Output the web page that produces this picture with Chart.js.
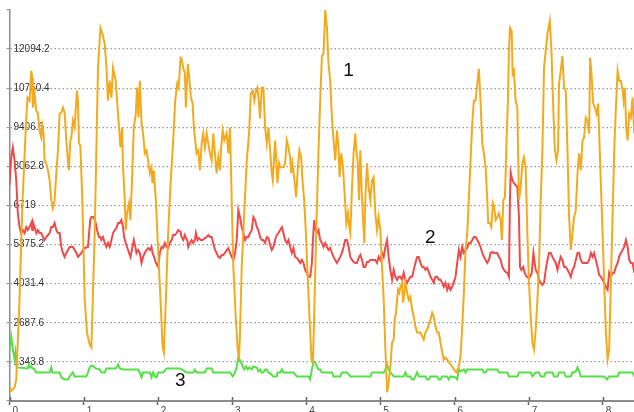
<!DOCTYPE html>
<html><head><meta charset="utf-8">
<script src="https://cdn.jsdelivr.net/npm/chart.js@4/dist/chart.umd.min.js"></script>
<style>html,body{margin:0;padding:0;background:#fff;overflow:hidden;}canvas{display:block;}</style>
</head><body>
<canvas id="c" width="634" height="412"></canvas>
<script>
// ---- data ----
const seriesNames = ['1', '2', '3'];
const xTickValues = [0, 1, 2, 3, 4, 5, 6, 7, 8];
const xTickLabels = ['0', '1', '2', '3', '4', '5', '6', '7', '8'];
const yTickValues = [0, 1343.8, 2687.6, 4031.4, 5375.2, 6719, 8062.8, 9406.6, 10750.4, 12094.2, 13438];
const yTickLabels = ['', '1343.8', '2687.6', '4031.4', '5375.2', '6719', '8062.8', '9406.6', '10750.4', '12094.2', ''];

const series1 = [[0,469],[0.023,342],[0.068,469],[0.091,743],[0.135,3480],[0.176,6902],[0.226,9742],[0.243,10427],[0.270,10324],[0.280,10666],[0.293,11351],[0.307,11111],[0.315,10085],[0.338,10564],[0.361,9982],[0.382,9879],[0.405,9298],[0.428,9058],[0.442,9469],[0.459,9195],[0.473,8271],[0.496,8168],[0.518,7929],[0.541,7587],[0.564,6902],[0.585,6628],[0.608,6902],[0.631,7826],[0.653,8613],[0.676,9879],[0.699,9914],[0.720,10085],[0.743,9914],[0.766,8955],[0.788,8271],[0.801,7929],[0.820,8955],[0.834,9058],[0.855,9640],[0.878,9400],[0.892,9982],[0.909,10666],[0.923,10324],[0.936,8853],[0.955,8784],[0.982,6902],[1.014,3480],[1.045,2351],[1.081,1940],[1.104,1838],[1.149,5773],[1.193,11453],[1.226,12822],[1.253,12617],[1.284,12275],[1.307,11453],[1.328,10324],[1.351,11009],[1.374,10427],[1.396,11453],[1.432,11009],[1.450,10324],[1.477,9400],[1.496,8716],[1.518,9400],[1.531,8031],[1.554,6902],[1.568,5876],[1.585,6457],[1.612,6800],[1.631,6218],[1.658,8031],[1.676,9400],[1.703,9879],[1.720,10769],[1.739,9742],[1.757,11009],[1.780,9537],[1.801,9195],[1.824,8511],[1.847,8613],[1.869,8271],[1.892,7826],[1.915,8031],[1.928,7484],[1.946,7929],[1.973,6902],[2.004,5191],[2.036,3480],[2.064,1872],[2.081,1667],[2.108,3480],[2.139,5773],[2.172,7484],[2.207,8955],[2.234,10324],[2.261,10906],[2.280,10769],[2.307,11796],[2.320,11761],[2.342,11453],[2.365,11248],[2.378,10085],[2.405,11590],[2.423,11111],[2.446,10427],[2.469,10222],[2.486,9400],[2.504,8955],[2.523,8511],[2.545,8613],[2.568,7929],[2.591,8853],[2.612,9195],[2.635,8716],[2.658,9195],[2.680,8853],[2.703,8511],[2.726,8271],[2.747,9195],[2.770,8511],[2.793,7826],[2.815,8374],[2.838,7929],[2.851,8613],[2.874,9298],[2.896,8955],[2.928,9195],[2.950,8511],[2.973,9400],[2.996,6902],[3.018,4609],[3.050,2898],[3.077,1769],[3.095,1427],[3.108,2351],[3.131,4609],[3.162,6320],[3.199,8271],[3.230,9195],[3.253,10564],[3.280,10666],[3.301,10324],[3.324,10666],[3.342,10769],[3.361,10324],[3.378,9708],[3.401,10769],[3.423,10769],[3.446,9400],[3.469,8853],[3.491,9400],[3.514,8613],[3.536,7826],[3.550,7587],[3.581,8955],[3.595,8374],[3.612,7484],[3.635,8168],[3.649,8031],[3.693,8031],[3.716,8168],[3.739,8955],[3.761,8716],[3.784,8374],[3.797,7826],[3.815,8168],[3.838,7689],[3.865,7005],[3.888,8031],[3.909,8613],[3.932,8374],[3.950,7587],[3.973,6902],[3.996,5773],[4.018,4404],[4.045,2898],[4.072,1427],[4.091,1324],[4.108,2898],[4.135,5773],[4.166,8613],[4.189,10324],[4.212,11864],[4.234,11933],[4.257,13438],[4.280,12822],[4.301,11590],[4.324,11009],[4.347,9742],[4.369,8955],[4.392,8271],[4.415,9298],[4.436,8716],[4.450,7689],[4.473,8511],[4.496,8031],[4.518,7142],[4.541,6115],[4.563,6457],[4.581,5978],[4.595,5773],[4.618,7347],[4.639,8511],[4.662,9195],[4.676,8613],[4.693,8271],[4.712,6902],[4.730,8613],[4.753,6902],[4.784,5431],[4.797,6902],[4.820,8168],[4.842,7347],[4.865,6902],[4.888,7587],[4.909,7689],[4.932,6457],[4.955,5876],[4.977,6320],[5.000,5876],[5.023,4609],[5.045,3480],[5.068,1769],[5.091,298],[5.112,640],[5.135,1187],[5.158,2009],[5.180,2111],[5.193,2796],[5.212,3035],[5.226,3480],[5.239,3822],[5.257,3720],[5.270,3925],[5.293,4062],[5.307,3378],[5.324,3720],[5.338,4062],[5.361,3720],[5.382,3480],[5.405,3583],[5.428,3138],[5.450,2898],[5.473,2556],[5.496,2351],[5.541,2351],[5.585,2111],[5.608,2351],[5.631,2454],[5.676,2796],[5.699,3035],[5.720,2898],[5.743,2556],[5.766,2351],[5.788,2351],[5.811,2009],[5.834,1667],[5.855,1427],[5.878,1495],[5.901,1427],[5.923,1324],[5.946,1256],[5.969,1187],[5.991,1085],[6.027,982],[6.059,1187],[6.081,1530],[6.104,2556],[6.126,3720],[6.149,5191],[6.172,5773],[6.193,6902],[6.216,8271],[6.239,9537],[6.261,10324],[6.284,10324],[6.307,10906],[6.328,11419],[6.351,10324],[6.374,8853],[6.396,8511],[6.419,8031],[6.442,6902],[6.455,6115],[6.477,6115],[6.496,5978],[6.518,6800],[6.536,6662],[6.554,6218],[6.577,6320],[6.599,6457],[6.622,6218],[6.639,5533],[6.658,6902],[6.680,7005],[6.703,9058],[6.720,10324],[6.734,12035],[6.747,12822],[6.770,12720],[6.784,11248],[6.801,11351],[6.824,10324],[6.847,10085],[6.869,6902],[6.892,7347],[6.915,8168],[6.936,8374],[6.959,8031],[6.982,5773],[7.004,4062],[7.027,2898],[7.050,2009],[7.072,1769],[7.095,2454],[7.118,3480],[7.139,4609],[7.162,6902],[7.185,8613],[7.207,11453],[7.230,12035],[7.253,12617],[7.284,13062],[7.307,12035],[7.328,10324],[7.351,8716],[7.374,8271],[7.396,8613],[7.409,10906],[7.432,11351],[7.455,11864],[7.477,10769],[7.500,10666],[7.523,8613],[7.545,6320],[7.568,5191],[7.591,5773],[7.612,6320],[7.635,6560],[7.658,7826],[7.680,8511],[7.703,7929],[7.726,8955],[7.747,9058],[7.770,9742],[7.793,9640],[7.815,9195],[7.828,11796],[7.847,11248],[7.869,10222],[7.892,10085],[7.915,9879],[7.936,10222],[7.950,9195],[7.973,7484],[7.996,5773],[8.018,4062],[8.041,2351],[8.064,1427],[8.085,1769],[8.108,4062],[8.131,6320],[8.153,8613],[8.176,10085],[8.199,11351],[8.220,11009],[8.243,11009],[8.266,10666],[8.280,10324],[8.297,10769],[8.315,9400],[8.334,8955],[8.355,9879],[8.378,9742],[8.401,10427],[8.423,9195],[8.446,8955]];

const series2 = [[0,7416],[0.023,8374],[0.045,8716],[0.068,8271],[0.091,7587],[0.112,6457],[0.135,5978],[0.158,5773],[0.180,5876],[0.203,5773],[0.226,5978],[0.247,5876],[0.270,5978],[0.293,6115],[0.307,5876],[0.315,6149],[0.338,5978],[0.361,5773],[0.382,5876],[0.405,5773],[0.428,5773],[0.450,5636],[0.473,5533],[0.496,5636],[0.518,5704],[0.541,5773],[0.564,5978],[0.585,5978],[0.608,6115],[0.631,5876],[0.653,5773],[0.676,5773],[0.699,5294],[0.720,5088],[0.743,4952],[0.766,5088],[0.788,5191],[0.811,5294],[0.855,5294],[0.878,5191],[0.901,5088],[0.923,4952],[0.946,5020],[0.969,5088],[0.991,5191],[1.014,5260],[1.058,5294],[1.068,5601],[1.088,6218],[1.104,6320],[1.135,6320],[1.162,6115],[1.180,5876],[1.207,5636],[1.226,5636],[1.239,5533],[1.261,5636],[1.284,5431],[1.307,5294],[1.328,5431],[1.351,5294],[1.374,5533],[1.396,5773],[1.419,5876],[1.442,5944],[1.464,6115],[1.486,6115],[1.509,6218],[1.531,5978],[1.545,5636],[1.568,5431],[1.585,5294],[1.612,5088],[1.631,4952],[1.658,5294],[1.676,5533],[1.699,5260],[1.712,5088],[1.734,5191],[1.757,5088],[1.780,4746],[1.801,4952],[1.824,5088],[1.847,5191],[1.869,5260],[1.892,5191],[1.915,5294],[1.928,5088],[1.950,4952],[1.973,4746],[2.004,4609],[2.027,5088],[2.050,5294],[2.072,5260],[2.095,5431],[2.118,5294],[2.139,5260],[2.162,5431],[2.185,5533],[2.207,5704],[2.230,5704],[2.253,5773],[2.274,5876],[2.307,5807],[2.320,5636],[2.342,5533],[2.365,5704],[2.378,5601],[2.396,5533],[2.410,5294],[2.432,5431],[2.455,5533],[2.477,5431],[2.500,5533],[2.514,5773],[2.536,5533],[2.558,5601],[2.577,5533],[2.604,5533],[2.635,5601],[2.658,5636],[2.680,5704],[2.703,5636],[2.726,5636],[2.747,5431],[2.770,5191],[2.793,5088],[2.815,4952],[2.838,4917],[2.861,5020],[2.882,5020],[2.905,5088],[2.928,5191],[2.950,5260],[2.973,5088],[2.996,4952],[3.018,4849],[3.041,5088],[3.064,5533],[3.085,6560],[3.108,6320],[3.131,5978],[3.153,5773],[3.176,5533],[3.199,5636],[3.220,5636],[3.243,5773],[3.266,5876],[3.288,6320],[3.311,6218],[3.334,5978],[3.355,5876],[3.378,5636],[3.401,5533],[3.423,5533],[3.446,5431],[3.469,5636],[3.491,5601],[3.514,5362],[3.536,5191],[3.558,5294],[3.581,5533],[3.604,5704],[3.626,5773],[3.649,5876],[3.672,5978],[3.693,5773],[3.716,5533],[3.739,5431],[3.761,5533],[3.784,5294],[3.807,5088],[3.828,5260],[3.851,4952],[3.874,4917],[3.896,4849],[3.919,4746],[3.942,4849],[3.963,4746],[3.986,4507],[4.009,4404],[4.031,4267],[4.054,4267],[4.077,4746],[4.091,5533],[4.108,6218],[4.126,5876],[4.145,5773],[4.166,5876],[4.189,5533],[4.212,5431],[4.234,5294],[4.257,5431],[4.280,5294],[4.301,5191],[4.324,5260],[4.347,5088],[4.369,4952],[4.392,4849],[4.415,4746],[4.436,4849],[4.459,4952],[4.482,5088],[4.504,5294],[4.527,5533],[4.550,5533],[4.572,5294],[4.595,4952],[4.618,4849],[4.639,4781],[4.662,4746],[4.685,4746],[4.707,4917],[4.730,5020],[4.753,4849],[4.774,4609],[4.797,4609],[4.820,4781],[4.842,4781],[4.865,4849],[4.909,4849],[4.932,4849],[4.955,4746],[4.977,4952],[5.000,4849],[5.023,5088],[5.045,4952],[5.068,5294],[5.091,5533],[5.112,4952],[5.135,4507],[5.158,4165],[5.180,4507],[5.203,4267],[5.226,4165],[5.247,4267],[5.270,4267],[5.293,4165],[5.315,4404],[5.338,4165],[5.361,4062],[5.382,4165],[5.405,4267],[5.428,4267],[5.450,4507],[5.473,4746],[5.496,4952],[5.518,4952],[5.541,4746],[5.564,4609],[5.585,4609],[5.608,4507],[5.631,4575],[5.653,4438],[5.676,4267],[5.699,4165],[5.720,4062],[5.743,4267],[5.766,4267],[5.788,4165],[5.811,4165],[5.834,4062],[5.855,3925],[5.878,4062],[5.901,3822],[5.923,3993],[5.946,3822],[5.969,3925],[5.991,4096],[6.014,4267],[6.036,4746],[6.059,5191],[6.081,4952],[6.104,5294],[6.126,5088],[6.149,5191],[6.172,5260],[6.193,5431],[6.216,5431],[6.239,5533],[6.261,5636],[6.284,5636],[6.307,5533],[6.328,5431],[6.351,5294],[6.374,5088],[6.396,4952],[6.419,4849],[6.442,4746],[6.464,4849],[6.486,5088],[6.509,5123],[6.531,5088],[6.554,5088],[6.577,5088],[6.599,4952],[6.622,4849],[6.645,4609],[6.666,4507],[6.689,4438],[6.712,4404],[6.734,4267],[6.747,6902],[6.757,7860],[6.780,7587],[6.801,7484],[6.824,7416],[6.847,7347],[6.869,6320],[6.883,4609],[6.901,4507],[6.928,4609],[6.946,4404],[6.973,4267],[6.996,4233],[7.018,4267],[7.041,4404],[7.064,5088],[7.081,4746],[7.095,4507],[7.118,4404],[7.139,4165],[7.162,4062],[7.185,3993],[7.207,4062],[7.230,4507],[7.253,4849],[7.274,5088],[7.297,5088],[7.320,4952],[7.342,4849],[7.365,4746],[7.388,4507],[7.409,4746],[7.432,4952],[7.455,4849],[7.477,4609],[7.500,4609],[7.523,4507],[7.545,4404],[7.568,4267],[7.591,4507],[7.612,4609],[7.635,4849],[7.658,5088],[7.680,5088],[7.703,4849],[7.726,4746],[7.793,4746],[7.815,4849],[7.838,5088],[7.861,4952],[7.882,5088],[7.905,4849],[7.928,4609],[7.950,4336],[7.973,4267],[7.996,4165],[8.018,4062],[8.041,3925],[8.064,3822],[8.085,4404],[8.108,4267],[8.131,4404],[8.153,4404],[8.176,4609],[8.199,4746],[8.220,4952],[8.243,5088],[8.266,5191],[8.288,5294],[8.311,5533],[8.334,5294],[8.355,4849],[8.378,4746],[8.401,4746],[8.423,4404],[8.446,4336]];

const series3 = [[0,1769],[0.023,2214],[0.045,1769],[0.068,1427],[0.081,1667],[0.099,1153],[0.247,1119],[0.261,1256],[0.280,1153],[0.293,1187],[0.315,1119],[0.338,1085],[0.361,982],[0.541,982],[0.564,1153],[0.577,982],[0.676,982],[0.699,811],[0.743,743],[0.788,743],[0.811,845],[0.855,982],[0.878,845],[1.036,845],[1.058,982],[1.081,1153],[1.104,1222],[1.135,1187],[1.162,1119],[1.216,1085],[1.239,982],[1.284,982],[1.307,1119],[1.432,1119],[1.464,1256],[1.486,1119],[1.531,1085],[1.734,1085],[1.757,982],[1.780,811],[1.801,982],[1.892,982],[1.915,811],[1.937,982],[1.959,845],[1.982,811],[2.004,982],[2.072,982],[2.118,1119],[2.297,1119],[2.388,982],[2.477,982],[2.500,1085],[2.523,982],[2.635,982],[2.658,1119],[2.726,1119],[2.747,982],[2.973,982],[3.009,845],[3.041,982],[3.064,1187],[3.085,1495],[3.118,1359],[3.145,1187],[3.166,1085],[3.189,1187],[3.212,1085],[3.234,1153],[3.266,1085],[3.288,1187],[3.334,1153],[3.355,1016],[3.378,1085],[3.401,982],[3.423,982],[3.446,1085],[3.469,1085],[3.491,982],[3.514,948],[3.558,845],[3.604,845],[3.613,982],[3.649,982],[3.672,1085],[3.693,982],[3.828,982],[3.874,845],[4.031,845],[4.054,743],[4.077,1085],[4.099,1359],[4.122,1324],[4.145,1187],[4.166,1085],[4.189,1085],[4.212,982],[4.347,982],[4.369,845],[4.459,845],[4.482,982],[4.550,982],[4.595,845],[4.865,845],[4.888,982],[5.045,982],[5.068,1085],[5.091,1256],[5.112,1085],[5.135,982],[5.158,914],[5.180,845],[5.315,845],[5.338,982],[5.361,845],[5.405,845],[5.428,743],[5.450,743],[5.473,845],[5.496,982],[5.518,845],[5.608,845],[5.631,743],[5.653,743],[5.676,845],[5.766,845],[5.788,743],[5.811,743],[5.834,845],[5.901,845],[5.923,743],[5.946,845],[6.014,811],[6.036,743],[6.059,1085],[6.081,1016],[6.126,1085],[6.149,982],[6.172,1085],[6.374,1085],[6.396,982],[6.419,982],[6.442,1085],[6.577,1085],[6.599,982],[6.712,982],[6.734,845],[6.847,845],[6.869,982],[7.027,982],[7.050,845],[7.072,914],[7.095,982],[7.139,982],[7.162,845],[7.207,845],[7.230,982],[7.320,982],[7.342,845],[7.388,845],[7.409,982],[7.477,982],[7.500,845],[7.568,845],[7.591,982],[7.635,1016],[7.658,1153],[7.680,1016],[7.703,845],[8.018,845],[8.054,743],[8.085,845],[8.199,845],[8.220,982],[8.401,982],[8.423,845],[8.446,845]];

// ---- chart ----
const labelAnchorX = [4.57, 5.675, 2.304];
const labelAnchorY = [11340, 5605, 683];
const toPts = arr => arr.map(p => ({x: p[0], y: p[1]}));
const FONT = '"Liberation Sans", Arial, sans-serif';

const extras = {
  id: 'extras',
  afterDatasetsDraw(chart) {
    const {ctx} = chart;
    const xs = chart.scales.x, ys = chart.scales.y;
    ctx.save();
    ctx.strokeStyle = '#666';
    ctx.lineWidth = 1.5;
    xs.ticks.forEach((t, i) => {
      const px = Math.round(xs.getPixelForTick(i)) + 0.5;
      ctx.beginPath(); ctx.moveTo(px, ys.bottom - 4); ctx.lineTo(px, ys.bottom); ctx.stroke();
    });
    ctx.font = '19px ' + FONT;
    ctx.fillStyle = '#111';
    ctx.textAlign = 'center';
    ctx.textBaseline = 'middle';
    seriesNames.forEach((n, i) => {
      ctx.fillText(n, xs.getPixelForValue(labelAnchorX[i]), ys.getPixelForValue(labelAnchorY[i]));
    });
    ctx.restore();
  }
};

new Chart(document.getElementById('c'), {
  type: 'line',
  data: {
    datasets: [
      {label: seriesNames[0], data: toPts(series1), borderColor: '#F2AA1F', borderWidth: 2, pointRadius: 0, tension: 0, fill: false},
      {label: seriesNames[1], data: toPts(series2), borderColor: '#F04A4A', borderWidth: 2, pointRadius: 0, tension: 0, fill: false},
      {label: seriesNames[2], data: toPts(series3), borderColor: '#55E048', borderWidth: 2, pointRadius: 0, tension: 0, fill: false}
    ]
  },
  options: {
    responsive: false,
    animation: false,
    events: [],
    layout: {padding: {top: 9, right: 0, bottom: 0, left: 0}},
    plugins: {legend: {display: false}, tooltip: {enabled: false}},
    scales: {
      x: {
        type: 'linear', min: 0, max: 8.42,
        afterBuildTicks: s => { s.ticks = xTickValues.map(v => ({value: v})); },
        afterFit: s => { s.height = 11; },
        grid: {drawOnChartArea: false, drawTicks: true, tickLength: 4, tickColor: '#666', tickWidth: 1.5},
        border: {display: true, color: '#8c8c8c', width: 2},
        ticks: {autoSkip: false, maxRotation: 0, align: 'start', labelOffset: 3, padding: 0,
                color: '#444', font: {family: FONT, size: 10},
                callback: (v, i) => xTickLabels[i]}
      },
      y: {
        type: 'linear', min: 0, max: 13438,
        afterBuildTicks: s => { s.ticks = yTickValues.map(v => ({value: v})); },
        afterFit: s => { s.width = 9.5; },
        grid: {
          color: c => (c.index === 0 || c.index === yTickValues.length - 1) ? 'rgba(0,0,0,0)' : '#999',
          lineWidth: 1.2, drawTicks: true, tickLength: 3, tickColor: '#999'
        },
        border: {display: true, color: '#8c8c8c', width: 1.5, dash: [1.5, 2.5]},
        ticks: {mirror: true, padding: 4, crossAlign: 'near', color: '#333', font: {family: FONT, size: 10},
                callback: (v, i) => yTickLabels[i]}
      }
    }
  },
  plugins: [extras]
});
</script>
</body></html>
